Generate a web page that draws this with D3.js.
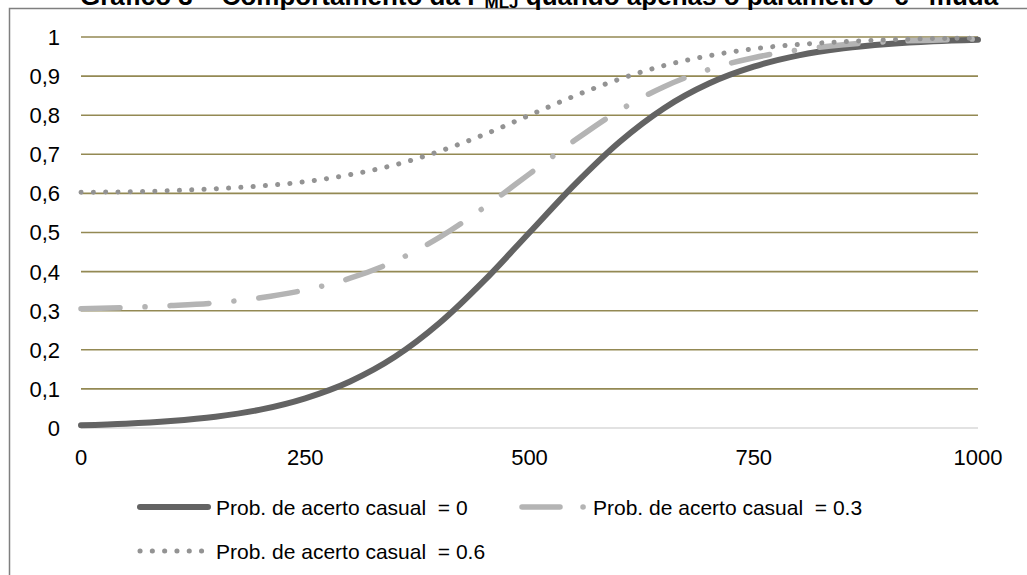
<!DOCTYPE html>
<html>
<head>
<meta charset="utf-8">
<script src="https://cdn.jsdelivr.net/npm/d3@7"></script>
<style>
  body { margin: 0; background: #fff; }
  text { font-family: "Liberation Sans", Arial, sans-serif; fill: #000; white-space: pre; }
</style>
</head>
<body>
<div class="chart"></div>
<script>
// values
var xValues = [0, 50, 100, 150, 200, 250, 300, 350, 400, 450, 500, 550, 600, 650, 700, 750, 800, 850, 900, 950, 1000];
var serieC0 = [0.007, 0.011, 0.018, 0.029, 0.047, 0.076, 0.119, 0.182, 0.269, 0.378, 0.5, 0.622, 0.731, 0.818, 0.881, 0.924, 0.953, 0.971, 0.982, 0.989, 0.993];
var serieC3 = [0.305, 0.308, 0.313, 0.320, 0.333, 0.353, 0.383, 0.427, 0.488, 0.565, 0.65, 0.735, 0.812, 0.873, 0.917, 0.947, 0.967, 0.980, 0.988, 0.992, 0.995];
var serieC6 = [0.603, 0.604, 0.607, 0.612, 0.619, 0.630, 0.648, 0.673, 0.708, 0.751, 0.8, 0.849, 0.892, 0.927, 0.952, 0.970, 0.981, 0.988, 0.993, 0.996, 0.997];
var seriesNames = ["Prob. de acerto casual  = 0", "Prob. de acerto casual  = 0.3", "Prob. de acerto casual  = 0.6"];
var xTicks = [0, 250, 500, 750, 1000];
var yTicks = [0, 0.1, 0.2, 0.3, 0.4, 0.5, 0.6, 0.7, 0.8, 0.9, 1];

var svgWidth = 1027;
var svgHeight = 575;

var svg = d3.select(".chart")
    .append("svg")
    .attr("width", svgWidth)
    .attr("height", svgHeight);

// chart frame (only top and left show in the crop)
svg.append("rect")
    .attr("x", 9.5)
    .attr("y", 8.5)
    .attr("width", 1040)
    .attr("height", 600)
    .attr("fill", "none")
    .attr("stroke", "#7f7f7f")
    .attr("stroke-width", 1.5);

// title, cut at the top of the picture like in the original
var title = svg.append("text")
    .attr("x", 80)
    .attr("y", 5)
    .style("font-size", "26px")
    .style("font-weight", "bold");
title.append("tspan").text("Gráfico 3 – Comportamento da P");
title.append("tspan").attr("dy", 3).style("font-size", "17px").text("MLJ");
title.append("tspan").attr("dy", -3).text(" quando apenas o parâmetro \u201cc\u201d muda");

var xScale = d3.scaleLinear().domain([0, 1000]).range([81, 978]);
var yScale = d3.scaleLinear().domain([0, 1]).range([428, 37]);

// gridlines
svg.append("g")
    .selectAll("line")
    .data(yTicks)
    .enter()
    .append("line")
    .attr("x1", xScale(0))
    .attr("x2", xScale(1000))
    .attr("y1", d => yScale(d))
    .attr("y2", d => yScale(d))
    .attr("stroke", d => d === 0 ? "#d9d9d9" : "#938953")
    .attr("stroke-width", 1.6);

// y labels
svg.append("g")
    .selectAll("text")
    .data(yTicks)
    .enter()
    .append("text")
    .attr("x", 60)
    .attr("y", d => yScale(d))
    .attr("dy", "0.36em")
    .attr("text-anchor", "end")
    .style("font-size", "22px")
    .text(d => d3.format(".1~f")(d).replace(".", ","));

// x labels
svg.append("g")
    .selectAll("text")
    .data(xTicks)
    .enter()
    .append("text")
    .attr("x", d => xScale(d))
    .attr("y", 465)
    .attr("text-anchor", "middle")
    .style("font-size", "22px")
    .text(d => d);

var styles = [
    { color: "#636363", width: 6, dash: null },
    { color: "#b4b4b4", width: 5.5, dash: "39 25 0.1 25" },
    { color: "#939393", width: 5, dash: "0.1 12.2" }
];

var allSeries = [serieC0, serieC3, serieC6];

var line = d3.line()
    .x((d, i) => xScale(xValues[i]))
    .y(d => yScale(d))
    .curve(d3.curveMonotoneX);

[0, 1, 2].forEach(function(k) {
    svg.append("path")
        .datum(allSeries[k])
        .attr("d", line)
        .attr("fill", "none")
        .attr("stroke", styles[k].color)
        .attr("stroke-width", styles[k].width)
        .attr("stroke-linecap", "round")
        .attr("stroke-linejoin", "round")
        .attr("stroke-dasharray", styles[k].dash);
});

// legend
var legendPos = [
    { x: 140, y: 507 },
    { x: 522, y: 507 },
    { x: 140, y: 551 }
];

legendPos.forEach(function(p, k) {
    svg.append("line")
        .attr("x1", p.x)
        .attr("x2", p.x + 68)
        .attr("y1", p.y)
        .attr("y2", p.y)
        .attr("stroke", styles[k].color)
        .attr("stroke-width", styles[k].width)
        .attr("stroke-linecap", "round")
        .attr("stroke-dasharray", k === 1 ? "38 23 0.1 25" : styles[k].dash);
    svg.append("text")
        .attr("x", k === 1 ? 593 : p.x + 76)
        .attr("y", p.y)
        .attr("dy", "0.36em")
        .style("font-size", "21px")
        .text(seriesNames[k]);
});
</script>
</body>
</html>
